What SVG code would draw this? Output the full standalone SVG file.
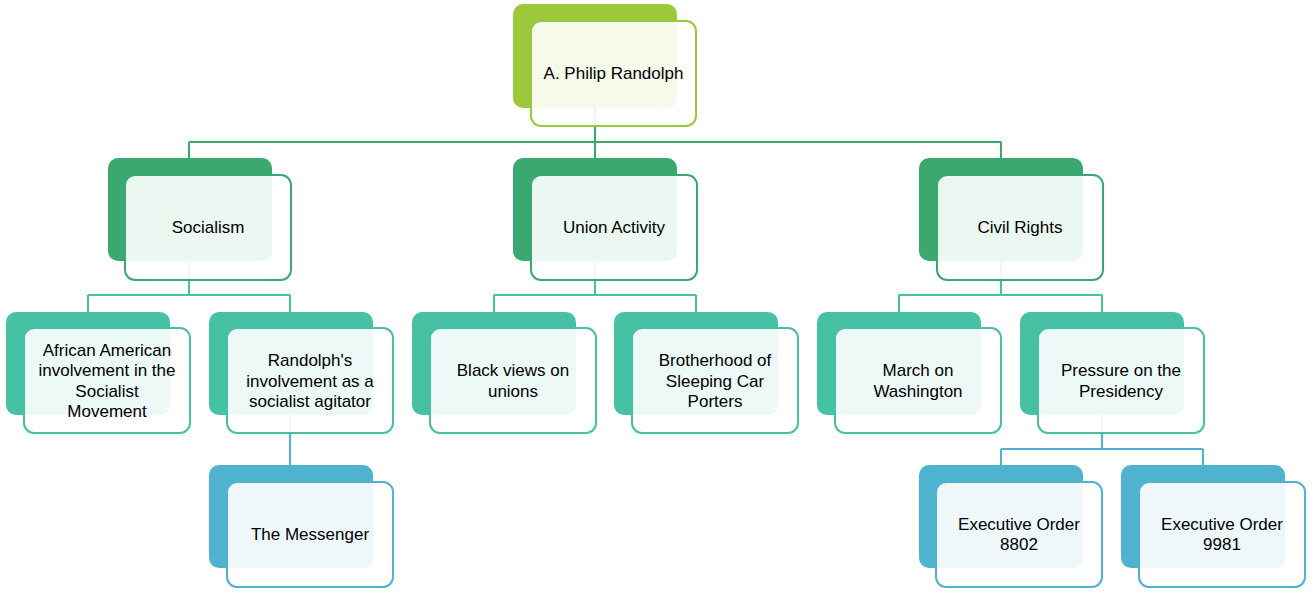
<svg xmlns="http://www.w3.org/2000/svg" width="1314" height="594" viewBox="0 0 1314 594">
<style>
.bk{stroke:none}
.fr{fill:#ffffff;fill-opacity:0.9;stroke-width:2}
.l1 .bk{fill:#9BC93B}.l1 .fr{stroke:#9BC93B}
.l2 .bk{fill:#3BA96F}.l2 .fr{stroke:#3BA96F}
.l3 .bk{fill:#46C1A3}.l3 .fr{stroke:#46C1A3}
.l4 .bk{fill:#4FB2CF}.l4 .fr{stroke:#4FB2CF}
text{font-family:"Liberation Sans",Arial,sans-serif;font-size:17px;fill:#000;text-anchor:middle}
.c{fill:none;stroke-width:2}
</style>
<rect width="1314" height="594" fill="#ffffff"/>
<g id="connectors">
<path class="c" stroke="#3BA96F" d="M595,108V142M189,142H1001M189,142V158M595,142V158M1001,142V158"/>
<path class="c" stroke="#46C1A3" d="M189,261V295M88,295H290M88,295V312M290,295V312"/>
<path class="c" stroke="#46C1A3" d="M595,261V295M494,295H696M494,295V312M696,295V312"/>
<path class="c" stroke="#46C1A3" d="M1001,261V295M899,295H1102M899,295V312M1102,295V312"/>
<path class="c" stroke="#4FB2CF" d="M290,415V465"/>
<path class="c" stroke="#4FB2CF" d="M1102,415V449M1001,449H1203M1001,449V465M1203,449V465"/>
</g>
<g id="n-randolph" class="l1">
<rect class="bk" x="513" y="4" width="164" height="104" rx="10"/>
<rect class="fr" x="531" y="21" width="165" height="105" rx="10"/>
<text x="613.5" y="79">A. Philip Randolph</text>
</g>
<g id="n-socialism" class="l2">
<rect class="bk" x="108" y="158" width="164" height="103" rx="10"/>
<rect class="fr" x="125" y="175" width="166" height="105" rx="10"/>
<text x="208" y="233">Socialism</text>
</g>
<g id="n-union" class="l2">
<rect class="bk" x="513" y="158" width="164" height="103" rx="10"/>
<rect class="fr" x="531" y="175" width="166" height="105" rx="10"/>
<text x="614" y="233">Union Activity</text>
</g>
<g id="n-civil" class="l2">
<rect class="bk" x="919" y="158" width="164" height="103" rx="10"/>
<rect class="fr" x="937" y="175" width="166" height="105" rx="10"/>
<text x="1020" y="233">Civil Rights</text>
</g>
<g id="n-african" class="l3">
<rect class="bk" x="6" y="312" width="164" height="103" rx="10"/>
<rect class="fr" x="24" y="328" width="166" height="105" rx="10"/>
<text x="107" y="355.5">African American</text>
<text x="107" y="376">involvement in the</text>
<text x="107" y="396.5">Socialist</text>
<text x="107" y="417">Movement</text>
</g>
<g id="n-agitator" class="l3">
<rect class="bk" x="209" y="312" width="164" height="103" rx="10"/>
<rect class="fr" x="227" y="328" width="166" height="105" rx="10"/>
<text x="310" y="366">Randolph's</text>
<text x="310" y="386.5">involvement as a</text>
<text x="310" y="407">socialist agitator</text>
</g>
<g id="n-blackviews" class="l3">
<rect class="bk" x="412" y="312" width="164" height="103" rx="10"/>
<rect class="fr" x="430" y="328" width="166" height="105" rx="10"/>
<text x="513" y="376">Black views on</text>
<text x="513" y="396.5">unions</text>
</g>
<g id="n-brotherhood" class="l3">
<rect class="bk" x="614" y="312" width="164" height="103" rx="10"/>
<rect class="fr" x="632" y="328" width="166" height="105" rx="10"/>
<text x="715" y="366">Brotherhood of</text>
<text x="715" y="386.5">Sleeping Car</text>
<text x="715" y="407">Porters</text>
</g>
<g id="n-march" class="l3">
<rect class="bk" x="817" y="312" width="164" height="103" rx="10"/>
<rect class="fr" x="835" y="328" width="166" height="105" rx="10"/>
<text x="918" y="376">March on</text>
<text x="918" y="396.5">Washington</text>
</g>
<g id="n-pressure" class="l3">
<rect class="bk" x="1020" y="312" width="164" height="103" rx="10"/>
<rect class="fr" x="1038" y="328" width="166" height="105" rx="10"/>
<text x="1121" y="376">Pressure on the</text>
<text x="1121" y="396.5">Presidency</text>
</g>
<g id="n-messenger" class="l4">
<rect class="bk" x="209" y="465" width="164" height="103" rx="10"/>
<rect class="fr" x="227" y="482" width="166" height="105" rx="10"/>
<text x="310" y="540">The Messenger</text>
</g>
<g id="n-eo8802" class="l4">
<rect class="bk" x="919" y="465" width="164" height="103" rx="10"/>
<rect class="fr" x="936" y="482" width="166" height="105" rx="10"/>
<text x="1019" y="529.5">Executive Order</text>
<text x="1019" y="550">8802</text>
</g>
<g id="n-eo9981" class="l4">
<rect class="bk" x="1121" y="465" width="164" height="103" rx="10"/>
<rect class="fr" x="1139" y="482" width="166" height="105" rx="10"/>
<text x="1222" y="529.5">Executive Order</text>
<text x="1222" y="550">9981</text>
</g>
</svg>
